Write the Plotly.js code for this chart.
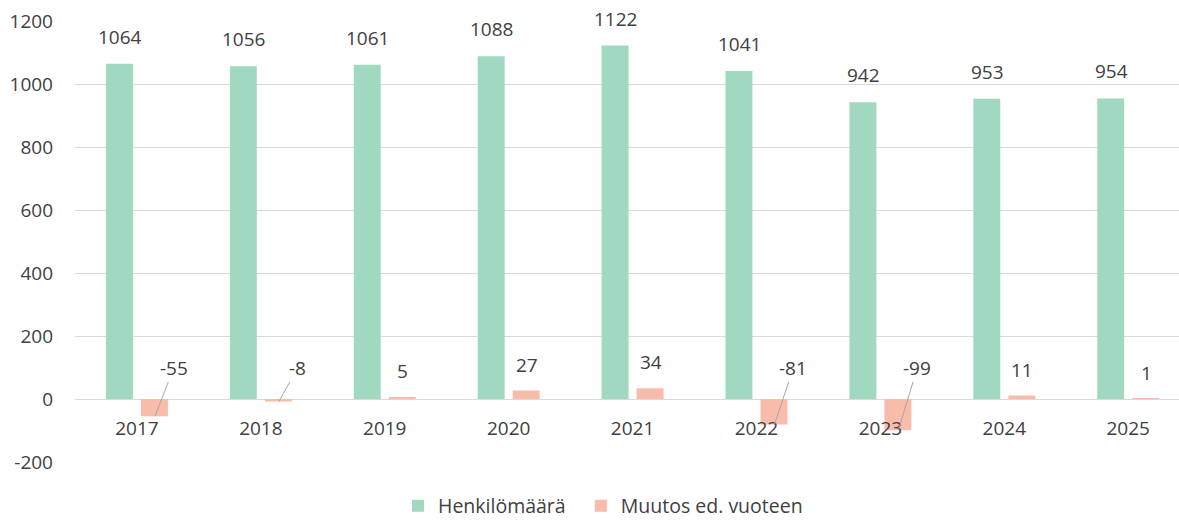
<!DOCTYPE html>
<html>
<head>
<meta charset="utf-8">
<script src="https://cdn.plot.ly/plotly-3.0.1.min.js"></script>
<style>
  html, body { margin: 0; padding: 0; background: #fff; }
  #chart { width: 1179px; height: 522px; }
</style>
</head>
<body>
<div id="chart"></div>
<script>
var years = ["2017", "2018", "2019", "2020", "2021", "2022", "2023", "2024", "2025"];
var headcount = [1064, 1056, 1061, 1088, 1122, 1041, 942, 953, 954];
var change = [-55, -8, 5, 27, 34, -81, -99, 11, 1];
var yTicks = [-200, 0, 200, 400, 600, 800, 1000, 1200];

var GREEN = "#a0d9c0";
var SALMON = "#f9bcab";
var TEXT = "#404040";
var FONT = "Open Sans, sans-serif";
var FS = 19;

var data = [
    {
        x: years,
        y: headcount,
        name: "Henkilömäärä\u00a0\u00a0",
        type: "bar",
        marker: { color: GREEN }
    },
    {
        x: years,
        y: change,
        name: "Muutos ed. vuoteen",
        type: "bar",
        marker: { color: SALMON }
    }
];

// data labels (x given as category index)
var annotations = [];
years.forEach(function (yr, i) {
    annotations.push({
        x: i, y: headcount[i], xref: "x", yref: "y",
        text: String(headcount[i]),
        showarrow: false, xshift: -17, yshift: 27, yanchor: "middle",
        font: { family: FONT, size: FS, color: TEXT }
    });
    if (change[i] >= 0) {
        annotations.push({
            x: i, y: change[i], xref: "x", yref: "y",
            text: String(change[i]),
            showarrow: false, xshift: 18, yshift: 26, yanchor: "middle",
            font: { family: FONT, size: FS, color: TEXT }
        });
    } else {
        annotations.push({
            x: i, y: change[i], xref: "x", yref: "y",
            text: String(change[i]),
            showarrow: true, arrowhead: 0, arrowwidth: 1, arrowcolor: "#a6a6a6",
            standoff: 0,
            axref: "pixel", ax: 19,
            ayref: "y", ay: 100,
            xshift: 18,
            font: { family: FONT, size: FS, color: TEXT }
        });
    }
});

var layout = {
    width: 1179,
    height: 522,
    margin: { l: 75, r: 0, t: 21, b: 60, autoexpand: false },
    paper_bgcolor: "#ffffff",
    plot_bgcolor: "#ffffff",
    font: { family: FONT, size: FS, color: TEXT },
    barmode: "group",
    bargap: 0.435,
    bargroupgap: 0.23,
    showlegend: true,
    legend: {
        orientation: "h",
        x: 0.2926, xanchor: "left",
        y: -0.1, yanchor: "middle",
        font: { family: FONT, size: 19.5, color: TEXT }
    },
    xaxis: {
        type: "category",
        range: [-0.5, 8.41],
        anchor: "free",
        position: 200 / 1400,
        showgrid: false,
        showline: false,
        zeroline: false,
        ticks: "",
        ticklabelstandoff: 16,
        tickfont: { family: FONT, size: FS, color: TEXT }
    },
    yaxis: {
        range: [-200, 1200],
        tickvals: yTicks,
        ticktext: yTicks.map(String),
        showgrid: true,
        gridcolor: "#d9d9d9",
        gridwidth: 1,
        zeroline: true,
        zerolinecolor: "#d9d9d9",
        zerolinewidth: 1,
        showline: false,
        ticks: "",
        ticklabelstandoff: 21,
        tickfont: { family: FONT, size: FS, color: TEXT }
    },
    annotations: annotations
};

Plotly.newPlot("chart", data, layout, { displayModeBar: false });
</script>
</body>
</html>
